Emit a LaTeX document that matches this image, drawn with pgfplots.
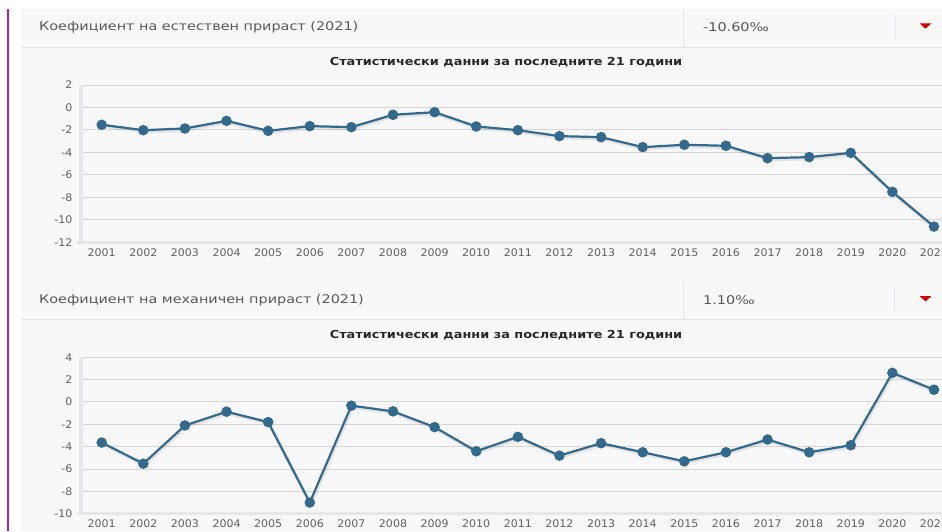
\documentclass[border=0pt]{standalone}
\usepackage{fontspec}
\setmainfont{DejaVu Sans}
\newfontfamily\hdrfont{DejaVu Sans}[FakeStretch=1.2]
\newfontfamily\titlefont{DejaVu Sans}[FakeStretch=1.17]
\newfontfamily\tickfont{DejaVu Sans}[FakeStretch=1.05]
\usepackage{pgfplots}
\pgfplotsset{compat=1.18}
\usepackage{pgfplotstable}

\definecolor{panelbg}{RGB}{248,248,248}
\definecolor{divcol}{RGB}{226,231,238}
\definecolor{hdrtext}{RGB}{88,88,88}
\definecolor{ticktext}{RGB}{96,96,96}
\definecolor{gridcol}{RGB}{214,214,214}
\definecolor{axiscol}{RGB}{230,231,233}
\definecolor{series}{RGB}{50,106,142}
\definecolor{redtri}{RGB}{215,0,0}
\definecolor{magline}{RGB}{185,30,160}
\definecolor{titletext}{RGB}{40,40,40}

\pgfplotstableread{
x y
0 -1.54
1 -2.02
2 -1.87
3 -1.19
4 -2.08
5 -1.66
6 -1.75
7 -0.65
8 -0.42
9 -1.69
10 -2.02
11 -2.55
12 -2.64
13 -3.53
14 -3.32
15 -3.41
16 -4.51
17 -4.42
18 -4.04
19 -7.51
20 -10.60
}\natdata

\pgfplotstableread{
x y
0 -3.63
1 -5.52
2 -2.10
3 -0.87
4 -1.80
5 -9.00
6 -0.33
7 -0.84
8 -2.25
9 -4.41
10 -3.12
11 -4.80
12 -3.69
13 -4.50
14 -5.31
15 -4.50
16 -3.36
17 -4.50
18 -3.87
19 2.61
20 1.10
}\mechdata

\pgfplotsset{
  mychart/.style={
    scale only axis,
    width=873.9pt,
    xmin=-0.5, xmax=20.5,
    xtick={0,...,20},
    xticklabels={2001,2002,2003,2004,2005,2006,2007,2008,2009,2010,2011,2012,2013,2014,2015,2016,2017,2018,2019,2020,2021},
    axis x line*=bottom,
    axis y line*=left,
    axis line style={draw=axiscol, line width=3.5pt},
    ymajorgrids,
    grid style={draw=gridcol, line width=1pt},
    major tick length=0pt,
    tick align=outside,
    ticklabel style={font=\tickfont\fontsize{10.5}{12}\selectfont, text=ticktext},
    /pgf/number format/assume math mode=true,
    yticklabel style={anchor=east, xshift=-5pt},
    xticklabel style={anchor=north, yshift=-2.5pt},
    extra y tick style={grid=none, major tick length=4pt, tick style={draw=gridcol, line width=1pt}},
    clip=false,
  },
  shadowline/.style={draw=black, opacity=0.08, line width=3.5pt, no marks, transform canvas={xshift=1pt, yshift=-1.5pt}},
  mainline/.style={draw=series, line width=2.2pt, mark=*, mark size=4.1pt, mark options={fill=series, draw=none}},
}

\begin{document}
\begin{tikzpicture}
\path[use as bounding box] (0pt,0pt) rectangle (942pt,-531pt);
\fill[panelbg] (21pt,-9pt) rectangle (942pt,-531pt);
\draw[magline, line width=2pt] (8pt,-9pt) -- (8pt,-531pt);

% header 1
\draw[divcol, line width=1pt] (21pt,-47pt) -- (942pt,-47pt);
\draw[divcol, line width=1pt] (683pt,-9pt) -- (683pt,-47pt);
\draw[divcol, line width=1pt] (895pt,-15pt) -- (895pt,-38pt);
\node[anchor=west, inner sep=0pt, text=hdrtext, font=\hdrfont\fontsize{12}{14}\selectfont] at (39pt,-27pt) {Коефициент на естествен прираст (2021)};
\node[anchor=west, inner sep=0pt, text=hdrtext, font=\hdrfont\fontsize{12}{14}\selectfont] at (703pt,-27.5pt) {-10.60‰};
\fill[redtri] (919.5pt,-23.3pt) -- (931.5pt,-23.3pt) -- (925.5pt,-28.7pt) -- cycle;
\node[inner sep=0pt, text=titletext, font=\titlefont\bfseries\fontsize{11}{13}\selectfont] at (506pt,-62.5pt) {Статистически данни за последните 21 години};

\begin{axis}[mychart, at={(80.9pt,-242.3pt)}, anchor=south west, height=157.3pt,
  ymin=-12, ymax=2, ytick={-12,-10,...,2}, extra y ticks={-12}, extra y tick labels={}]
\addplot[shadowline] table[x=x,y=y] {\natdata};
\addplot[mainline] table[x=x,y=y] {\natdata};
\end{axis}

% header 2
\draw[divcol, line width=1pt] (21pt,-319pt) -- (942pt,-319pt);
\draw[divcol, line width=1pt] (683pt,-281pt) -- (683pt,-319pt);
\draw[divcol, line width=1pt] (894pt,-287pt) -- (894pt,-311pt);
\node[anchor=west, inner sep=0pt, text=hdrtext, font=\hdrfont\fontsize{12}{14}\selectfont] at (39pt,-300pt) {Коефициент на механичен прираст (2021)};
\node[anchor=west, inner sep=0pt, text=hdrtext, font=\hdrfont\fontsize{12}{14}\selectfont] at (703pt,-300.5pt) {1.10‰};
\fill[redtri] (919.5pt,-296pt) -- (931.5pt,-296pt) -- (925.5pt,-301.4pt) -- cycle;
\node[inner sep=0pt, text=titletext, font=\titlefont\bfseries\fontsize{11}{13}\selectfont] at (506pt,-335.5pt) {Статистически данни за последните 21 години};

\begin{axis}[mychart, at={(80.9pt,-513.7pt)}, anchor=south west, height=156.4pt,
  ymin=-10, ymax=4, ytick={-10,-8,...,4}, extra y ticks={-10}, extra y tick labels={}]
\addplot[shadowline] table[x=x,y=y] {\mechdata};
\addplot[mainline] table[x=x,y=y] {\mechdata};
\end{axis}
\end{tikzpicture}
\end{document}
